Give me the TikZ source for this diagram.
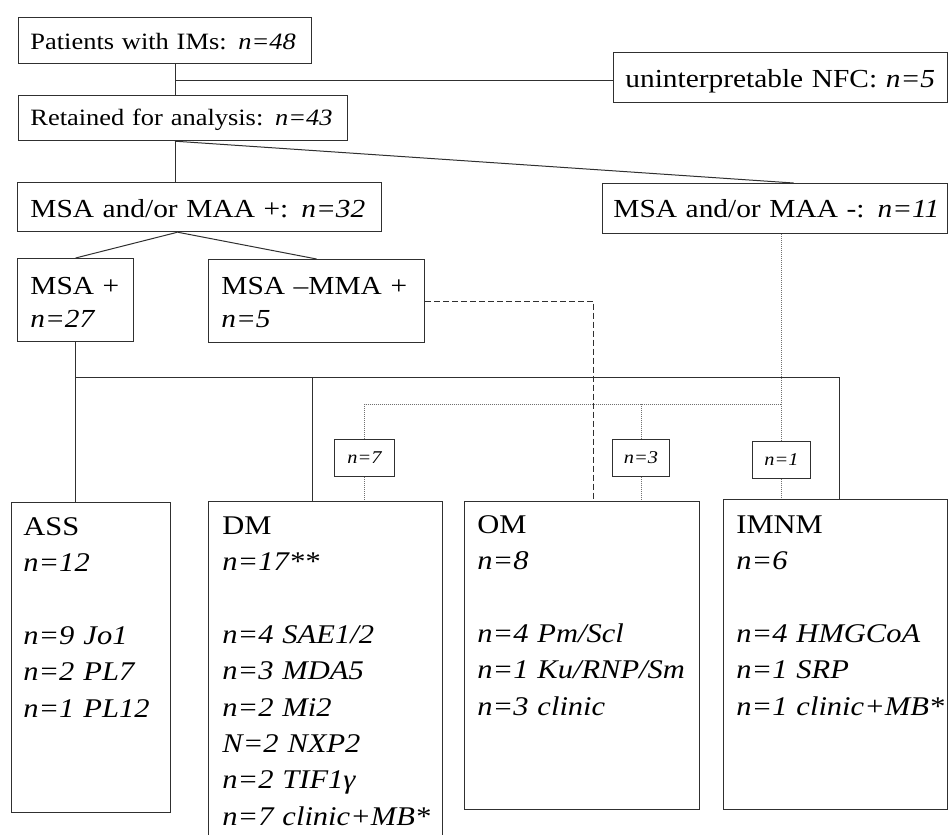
\documentclass[tikz,border=0pt]{standalone}
\usepackage{fontspec}
\setmainfont[FakeStretch=1.13]{Liberation Serif}
\usepackage{tikz}
\newcommand{\fsz}[2]{\fontsize{#1}{#2}\selectfont}
\definecolor{boxline}{HTML}{303030}
\definecolor{dotline}{HTML}{707070}
\tikzset{
  box/.style={draw=boxline, line width=0.6pt, anchor=north west, inner sep=0pt},
  txt/.style={anchor=base west, inner sep=0pt, text width=240pt, align=left},
  nbox/.style={draw=boxline, line width=0.5pt, anchor=north west, inner sep=0pt, font=\fsz{9}{11}\itshape},
  link/.style={draw=boxline, line width=0.5pt},
  dashlink/.style={draw=boxline, line width=0.6pt, dash pattern=on 3pt off 1.5pt},
  dotlink/.style={draw=dotline, line width=0.5pt, dash pattern=on 0.5pt off 0.5pt}
}

\begin{document}
\begin{tikzpicture}[x=0.5pt, y=-0.5pt]
\useasboundingbox (0,0) rectangle (948,835);
\clip (0,0) rectangle (948,835);
\begin{scope}[every node/.style={box}]
   \node[minimum width=146.5pt, minimum height=23pt] (patients) at (18,17) {};
   \node[minimum width=164.5pt, minimum height=22.5pt] (retained) at (18,95) {};
   \node[minimum width=167pt, minimum height=25pt] (nfc) at (613,52) {};
   \node[minimum width=182pt, minimum height=24.5pt] (msapos) at (17,182) {};
   \node[minimum width=172.5pt, minimum height=25pt] (msaneg) at (602,183) {};
   \node[minimum width=58pt, minimum height=41.5pt] (msaplus) at (17,258) {};
   \node[minimum width=108pt, minimum height=41.5pt] (msamma) at (208,259) {};
   \node[minimum width=79.5pt, minimum height=155pt] (ass) at (11,502) {};
   \node[minimum width=117pt, minimum height=172pt] (dm) at (208,501) {};
   \node[minimum width=117.5pt, minimum height=154pt] (om) at (464,501) {};
   \node[minimum width=112pt, minimum height=155pt] (imnm) at (723,499) {};
\end{scope}
 \node[nbox, minimum width=30pt, minimum height=18.5pt] (n7) at (334,439) {n=7};
 \node[nbox, minimum width=28.5pt, minimum height=18.5pt] (n3) at (612,439) {n=3};
 \node[nbox, minimum width=29pt, minimum height=18.5pt] (n1) at (752,441) {n=1};
\begin{scope}[every node/.style={txt}]
   \node[font=\fsz{11.7}{14}] (patientsT) at (30,49) {Patients with IMs: \textit{n=48}};
   \node[font=\fsz{11.7}{14}] (retainedT) at (30,125) {Retained for analysis: \textit{n=43}};
   \node[font=\fsz{13}{15}] (nfcT) at (625,87) {uninterpretable NFC: \textit{n=5}};
   \node[font=\fsz{13}{15}] (msaposT) at (30,217) {MSA and/or MAA +: \textit{n=32}};
   \node[font=\fsz{13}{15}] (msanegT) at (613,217) {MSA and/or MAA -: \textit{n=11}};
   \node[font=\fsz{13}{16.5}] (msaplusT) at (30,294) {MSA +\\ \textit{n=27}};
   \node[font=\fsz{13}{16.5}] (msammaT) at (221,294) {MSA –MMA +\\ \textit{n=5}};
   \node[font=\fsz{13.5}{18.2}] (assT) at (23,535) {ASS\\ \textit{n=12}\\[18.2pt]
      \textit{n=9 Jo1}\\ \textit{n=2 PL7}\\ \textit{n=1 PL12}};
   \node[font=\fsz{13.5}{18.2}] (dmT) at (222,534) {DM\\ \textit{n=17**}\\[18.2pt]
      \textit{n=4 SAE1/2}\\ \textit{n=3 MDA5}\\ \textit{n=2 Mi2}\\ \textit{N=2 NXP2}\\
      \textit{n=2 TIF1γ}\\ \textit{n=7 clinic+MB*}};
   \node[font=\fsz{13.5}{18.2}] (omT) at (477,533) {OM\\ \textit{n=8}\\[18.2pt]
      \textit{n=4 Pm/Scl}\\ \textit{n=1 Ku/RNP/Sm}\\ \textit{n=3 clinic}};
   \node[font=\fsz{13.5}{18.2}] (imnmT) at (736,533) {IMNM\\ \textit{n=6}\\[18.2pt]
      \textit{n=4 HMGCoA}\\ \textit{n=1 SRP}\\ \textit{n=1 clinic+MB*}};
\end{scope}
 % solid tree
 \coordinate (trunk) at (175,80);
 \draw[link] (trunk |- patients.south) -- (trunk |- retained.north);
 \draw[link] (trunk) -- (trunk -| nfc.west);
 \draw[link] (trunk |- retained.south) -- (trunk |- msapos.north);
 \draw[link] (trunk |- retained.south) -- ([xshift=9.25pt]msaneg.north);
 \draw[link] ([xshift=-11pt]msapos.south) -- (msaplus.north);
 \draw[link] ([xshift=-11pt]msapos.south) -- (msamma.north);
 \coordinate (bar) at (75,377);
 \coordinate (barR) at (839,377);
 \coordinate (dmdrop) at (312,377);
 \draw[link] (msaplus.south) -- (msaplus.south |- ass.north);
 \draw[link] (bar) -- (barR) -- (barR |- imnm.north);
 \draw[link] (dmdrop) -- (dmdrop |- dm.north);
 % dashed
 \draw[dashlink] (msamma.east) -| ([xshift=5.75pt]om.north);
 % dotted
 \coordinate (dotbar) at (365,404);
 \draw[dotlink] (n1.north |- msaneg.south) -- (n1.north);
 \draw[dotlink] (n7.north) |- (dotbar -| n1.north);
 \draw[dotlink] (n3.north) -- (n3.north |- dotbar);
 \draw[dotlink] (n7.south) -- (n7.south |- dm.north);
 \draw[dotlink] (n3.south) -- (n3.south |- om.north);
 \draw[dotlink] (n1.south) -- (n1.south |- imnm.north);
\end{tikzpicture}
\end{document}
